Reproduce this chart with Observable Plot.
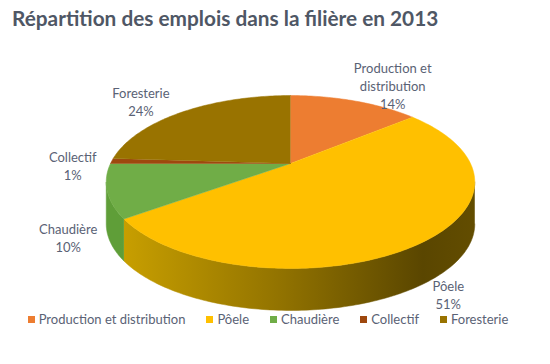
<!DOCTYPE html>
<html><head><meta charset="utf-8">
<script src="https://cdn.jsdelivr.net/npm/d3@7"></script>
<script src="https://cdn.jsdelivr.net/npm/@observablehq/plot@0.6"></script>
<style>
body{margin:0;background:#fff;width:550px;height:364px;overflow:hidden;font-family:Lato,"Open Sans",sans-serif;}
#title{height:38px;box-sizing:border-box;padding:5px 0 0 12px;font-size:20.8px;font-weight:bold;color:#4f5765;white-space:nowrap;font-family:Lato,sans-serif}
#chart svg{overflow:visible;display:block}
#legend{height:20px;width:550px;box-sizing:border-box;padding:1px 14px 0 0}
#legend .lg-swatches-wrap,#legend .lg-swatches{min-height:0;margin:0;justify-content:center;font:13px Lato,sans-serif;color:#5a6275;display:flex}
#legend .lg-swatch{margin-right:21px}
#legend .lg-swatch:last-child{margin-right:0}
#legend .lg-swatch svg{margin-right:4px}
</style></head><body>
<div id="title">Répartition des emplois dans la filière en 2013</div>
<div id="chart"></div>
<div id="legend"></div>
<script>
// ---- data ----
const categories = ["Production et distribution", "Pôele", "Chaudière", "Collectif", "Foresterie"];
const labelNames = ["Production et\ndistribution", "Pôele", "Chaudière", "Collectif", "Foresterie"];
const values = [14, 51, 10, 1, 24];
const colors = ["#ED7D31", "#FFC000", "#70AD47", "#9E480E", "#997300"];

// ---- layout / style ----
const labelOffsets = [[38, -16], [25, 52], [-39, 46], [-39, 4], [-43, -10]];
const wallStops = [
  [[0, "#d08a4a"], [1, "#9a4f1c"]],
  [[0, "#c9a000"], [0.45, "#927300"], [0.85, "#5a4600"], [1, "#634d00"]],
  [[0, "#5f9e38"], [1, "#4c8529"]],
  [[0, "#7a3a0c"], [1, "#7a3a0c"]],
  [[0, "#7a5c00"], [1, "#7a5c00"]]
];
const k = 0.214;          // perspective factor
const depth = 0.509;      // wall thickness in y units
const visLo = Math.acos(-k), visHi = 2 * Math.PI - Math.acos(-k);

function proj(theta, r = 1) {
  const u = r * Math.sin(theta), v = -r * Math.cos(theta);
  const w = 1 - k * v;
  return [u / w, v / w];
}

const total = d3.sum(values);
let acc = 0;
const slices = values.map((v, i) => {
  const a0 = acc / total * 2 * Math.PI;
  acc += v;
  const a1 = acc / total * 2 * Math.PI;
  return {i, cat: categories[i], a0, a1, mid: (a0 + a1) / 2};
});

const topRows = [];
const wallRows = slices.map(() => []);
for (const s of slices) {
  topRows.push({id: s.i, cat: s.cat, X: 0, Y: 0});
  const n = Math.max(2, Math.ceil((s.a1 - s.a0) / (Math.PI / 180)));
  for (let j = 0; j <= n; j++) {
    const t = s.a0 + (s.a1 - s.a0) * j / n;
    const [X, Y] = proj(t);
    topRows.push({id: s.i, cat: s.cat, X, Y});
  }
  const w0 = Math.max(s.a0, visLo), w1 = Math.min(s.a1, visHi);
  if (w1 > w0) {
    const m = Math.max(2, Math.ceil((w1 - w0) / (Math.PI / 180)));
    const pts = [];
    for (let j = 0; j <= m; j++) pts.push(proj(w0 + (w1 - w0) * j / m));
    for (const [X, Y] of pts) wallRows[s.i].push({X, Y});
    for (const [X, Y] of pts.slice().reverse()) wallRows[s.i].push({X, Y: Y + depth});
  }
}

const labelMarks = slices.map(s => {
  const [X, Y] = proj(s.mid);
  return Plot.text([{X, Y, t: labelNames[s.i] + "\n" + values[s.i] + "%"}], {
    x: "X", y: "Y", text: "t",
    dx: labelOffsets[s.i][0], dy: labelOffsets[s.i][1],
    fontSize: 13, fill: "#5a6275", lineHeight: 1.38, textAnchor: "middle", fontFamily: "Lato"
  });
});

const wallMarks = wallRows.map((rows, i) => rows.length ? Plot.line(rows, {
  x: "X", y: "Y", fill: `url(#wall${i})`, stroke: `url(#wall${i})`, strokeWidth: 0.5, curve: "linear"
}) : null).filter(Boolean);

const svg = Plot.plot({
  width: 550, height: 272,
  margin: 0,
  x: {domain: [-1, 1], range: [110, 470], axis: null},
  y: {domain: [-1, 1], range: [42.5, 207.5], axis: null},
  color: {domain: categories, range: colors},
  style: {background: "transparent", overflow: "visible"},
  marks: [
    ...wallMarks,
    Plot.line(topRows, {x: "X", y: "Y", z: "id", fill: "cat", stroke: "cat", strokeWidth: 0.5, curve: "linear"}),
    ...labelMarks
  ]
});

const defs = d3.select(svg).insert("defs", ":first-child");
wallStops.forEach((stops, i) => {
  const g = defs.append("linearGradient").attr("id", `wall${i}`)
    .attr("gradientUnits", "userSpaceOnUse").attr("x1", 118).attr("x2", 476).attr("y1", 0).attr("y2", 0);
  for (const [o, c] of stops) g.append("stop").attr("offset", o).attr("stop-color", c);
});
document.getElementById("chart").append(svg);

const legend = Plot.legend({
  color: {type: "ordinal", domain: categories, range: colors},
  swatchSize: 7, className: "lg"
});
document.getElementById("legend").append(legend);
</script>
</body></html>
